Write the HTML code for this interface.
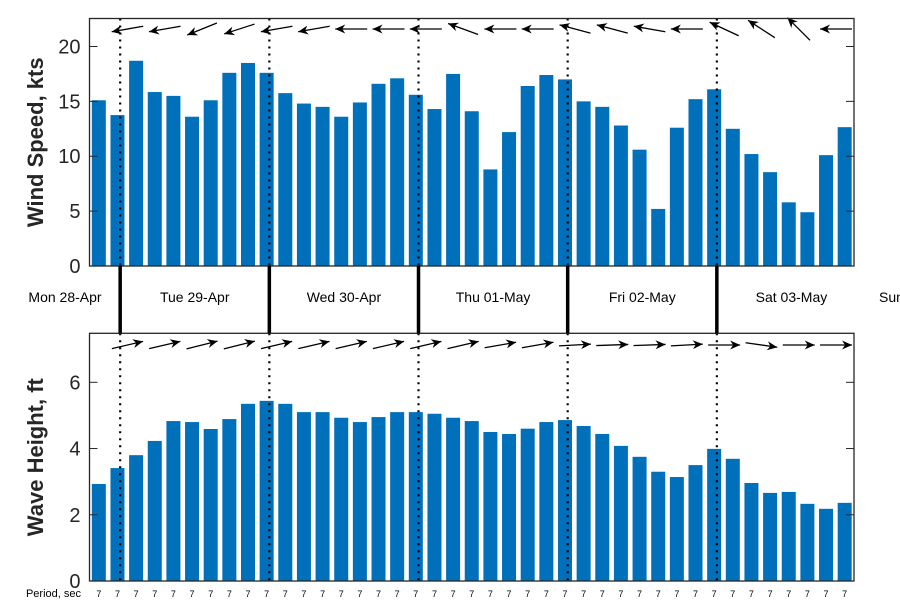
<!DOCTYPE html>
<html><head><meta charset="utf-8"><style>
html,body{margin:0;padding:0;background:#fff;}
svg{display:block;font-family:"Liberation Sans","DejaVu Sans",sans-serif;}
</style></head><body>
<svg id="chart" width="900" height="600" viewBox="0 0 900 600" xmlns="http://www.w3.org/2000/svg"></svg>
<script>
const windSpeed = [15.1,13.75,18.7,15.85,15.5,13.6,15.1,17.6,18.5,17.6,15.75,14.8,14.5,13.6,14.9,16.6,17.1,15.6,14.3,17.5,14.1,8.8,12.2,16.4,17.4,17.0,15.0,14.5,12.8,10.6,5.2,12.6,15.2,16.1,12.5,10.2,8.55,5.8,4.9,10.1,12.65];
const waveHeight = [2.93,3.41,3.8,4.23,4.83,4.8,4.59,4.89,5.35,5.44,5.35,5.1,5.1,4.93,4.8,4.95,5.1,5.1,5.05,4.93,4.83,4.5,4.44,4.6,4.8,4.86,4.68,4.44,4.08,3.75,3.3,3.14,3.5,3.99,3.69,2.96,2.66,2.69,2.33,2.18,2.36];
const periods = [7,7,7,7,7,7,7,7,7,7,7,7,7,7,7,7,7,7,7,7,7,7,7,7,7,7,7,7,7,7,7,7,7,7,7,7,7,7,7,7,7];
const windDirDeg = [190,190,202,198,190,190,180,180,180,160,180,180,165,165,170,180,155,147,135,180];
const waveDirDeg = [13,13,14,14,13,13,13,13,13,13,10,10,3,2,2,3,0,-8,0,0];
const dayLabels = ["Mon 28-Apr","Tue 29-Apr","Wed 30-Apr","Thu 01-May","Fri 02-May","Sat 03-May","Sun 04-May"];
const dayIdx = [1,9,17,25,33];
const windTicks = [0,5,10,15,20];
const waveTicks = [0,2,4,6];

const NS="http://www.w3.org/2000/svg";
const svg=document.getElementById('chart');
function mk(tag,attrs,parent){const e=document.createElementNS(NS,tag);for(const k in attrs)e.setAttribute(k,attrs[k]);(parent||svg).appendChild(e);return e;}
const L=89.5,R=854,N=windSpeed.length,slot=(R-L)/N;
const xs=i=>L+(i+0.5)*slot;
const top1=18.5,bot1=266,top2=333.3,bot2=581;
const y1=v=>bot1-v*(bot1-top1)/22.55;
const y2=v=>bot2-v*(bot2-top2)/7.48;
const blue="#0070bb";

function panel(values,ys,top,bot,ticks,title,dirs,arrowY,nm){
  const g=mk('g',{});
  
  
  values.forEach((v,i)=>{
    const b=mk('rect',{x:xs(i)-7,y:ys(v),width:14,height:bot-ys(v),fill:blue},g);
    
    
  });
  dayIdx.forEach(d=>{
    const x=xs(d)+2.7;
    const l=mk('line',{x1:x,y1:top,x2:x,y2:bot,stroke:'#000','stroke-width':2.2,'stroke-dasharray':'2 5'},g);
    
    
  });
  dirs.forEach((a,k)=>{
    const i=2*k+1;const cx=xs(i)+10;const r=a*Math.PI/180;const len=32;
    const dx=Math.cos(r)*len/2,dy=-Math.sin(r)*len/2;
    const tx=cx+dx,ty=arrowY+dy,sx=cx-dx,sy=arrowY-dy;
    const ag=mk('g',{},g);
    
    
    mk('line',{x1:sx,y1:sy,x2:tx,y2:ty,stroke:'#000','stroke-width':1.3},ag);
    const ux=Math.cos(r),uy=-Math.sin(r),px=-uy,py=ux;
    const bx=tx-ux*10,by=ty-uy*10;
    mk('polygon',{points:`${tx},${ty} ${bx+px*4.5},${by+py*4.5} ${tx-ux*7},${ty-uy*7} ${bx-px*4.5},${by-py*4.5}`,fill:'#000'},ag);
  });
  const f=mk('rect',{x:L,y:top,width:R-L,height:bot-top,fill:'none',stroke:'#262626','stroke-width':1.3},g);
  
  
  ticks.forEach(t=>{
    const y=ys(t);
    mk('line',{x1:L,y1:y,x2:L+8,y2:y,stroke:'#262626','stroke-width':1},g);
    mk('line',{x1:R-8,y1:y,x2:R,y2:y,stroke:'#262626','stroke-width':1},g);
    const tl=mk('text',{x:L-9,y:y+7,'text-anchor':'end','font-size':20,fill:'#262626'},g);
    tl.textContent=t;
    
    
  });
  const cy=(top+bot)/2;
  const tt=mk('text',{x:0,y:0,transform:`translate(43,${cy}) rotate(-90)`,'text-anchor':'middle','font-size':22,'font-weight':'bold',fill:'#262626'},g);
  tt.textContent=title;
  
  
}
panel(windSpeed,y1,top1,bot1,windTicks,"Wind Speed, kts",windDirDeg,29,'wind');
panel(waveHeight,y2,top2,bot2,waveTicks,"Wave Height, ft",waveDirDeg,345,'wave');

// day separators between panels
dayIdx.forEach(d=>{
  const x=xs(d)+2.7;
  const l=mk('line',{x1:x,y1:bot1,x2:x,y2:top2,stroke:'#000','stroke-width':3.5});
  
  
});
// day labels
const dayCenters=[65];
for(let k=0;k<dayIdx.length;k++){const a=xs(dayIdx[k])+2.7;const b=k+1<dayIdx.length?xs(dayIdx[k+1])+2.7:a+149.2;dayCenters.push((a+b)/2);}
dayLabels.forEach((s,k)=>{
  const isLast=k===dayLabels.length-1;
  const t=mk('text',{x:isLast?879:dayCenters[k],y:302,'text-anchor':isLast?'start':'middle','font-size':14,fill:'#000'});
  t.textContent=s;
  
  
});
// period row
const pl=mk('text',{x:81,y:597,'text-anchor':'end','font-size':11,fill:'#000'});
pl.textContent="Period, sec";


periods.forEach((p,i)=>{
  const t=mk('text',{x:xs(i),y:597,'text-anchor':'middle','font-size':9,fill:'#000'});
  t.textContent=p;
  
  
});
</script>
</body></html>
